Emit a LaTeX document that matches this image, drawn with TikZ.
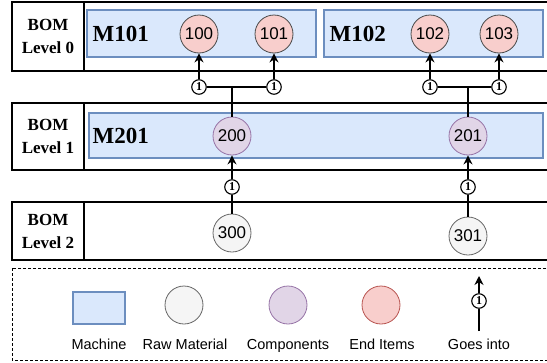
\documentclass[tikz,border=0pt]{standalone}
\usepackage{fontspec}
\setmainfont{Liberation Serif}
\setsansfont{Liberation Sans}
\usetikzlibrary{arrows.meta,positioning}
\definecolor{machfill}{HTML}{DAE8FC}
\definecolor{machdraw}{HTML}{6C8EBF}
\definecolor{rawfill}{HTML}{F5F5F5}
\definecolor{rawdraw}{HTML}{666666}
\definecolor{compfill}{HTML}{E1D5E7}
\definecolor{compdraw}{HTML}{9673A6}
\definecolor{endfill}{HTML}{F8CECC}
\definecolor{enddraw}{HTML}{4A4A4A}
\definecolor{endlegdraw}{HTML}{B85450}
\tikzset{
	rowframe/.style={line width=1.6pt, color=black},
	lvl/.style={font=\fontsize{17}{23}\selectfont\bfseries, align=center},
	machine/.style={rectangle, fill=machfill, draw=machdraw, line width=1.2pt, inner sep=0},
	mtext/.style={font=\fontsize{23}{26}\selectfont\bfseries, inner sep=0},
	part/.style={circle, line width=0.8pt, minimum size=38pt, inner sep=0, font=\sffamily\fontsize{17}{19}\selectfont},
	rawmat/.style={part, fill=rawfill, draw=rawdraw},
	comp/.style={part, fill=compfill, draw=compdraw},
	enditem/.style={part, fill=endfill, draw=enddraw},
	qty/.style={circle, draw, fill=white, line width=1.1pt, minimum size=14.5pt, inner sep=0, font=\fontsize{12}{12}\selectfont\bfseries},
	edge/.style={color=black, line width=1.5pt},
	diredge/.style={->,>={Stealth[width=9pt,length=9pt]}, color=black, line width=1.5pt},
	legtext/.style={anchor=base, font=\sffamily\fontsize{14.5}{16}\selectfont}
}
\begin{document}
\begin{tikzpicture}[x=1pt,y=-1pt]
		\useasboundingbox (0,0) rectangle (547,362);
		\clip (0,0) rectangle (547,362);
		
		%%%rows
		\draw[rowframe] (12,2) rectangle (552,71);
		\draw[rowframe] (84,2) -- (84,71);
		\draw[rowframe] (12,103) rectangle (552,170);
		\draw[rowframe] (84,103) -- (84,170);
		\draw[rowframe] (12,202) rectangle (552,260);
		\draw[rowframe] (84,202) -- (84,260);
		\node[lvl] (lvl0) at (48,36.5) {BOM\\Level 0};
		\node[lvl] (lvl1) at (48,136.5) {BOM\\Level 1};
		\node[lvl] (lvl2) at (48,231) {BOM\\Level 2};
		
		%%%machines
		\node[machine,minimum width=229,minimum height=47,label={[mtext,anchor=west,xshift=6]west:M101}] (m101) at (201.5,33.5) {};
		\node[machine,minimum width=219,minimum height=47,label={[mtext,anchor=west,xshift=6]west:M102}] (m102) at (433.5,33.5) {};
		\node[machine,minimum width=454,minimum height=45,label={[mtext,anchor=west,xshift=4]west:M201}] (m201) at (316,135.5) {};
		
		%%%items
		\node[enditem] (c100) at (199,34) {100};
		\node[enditem] (c101) at (274,34) {101};
		\node[enditem] (c102) at (430,34) {102};
		\node[enditem] (c103) at (499,34) {103};
		\node[comp] (c200) at (232,136) {200};
		\node[comp] (c201) at (468,136) {201};
		\node[rawmat] (c300) at (232,233) {300};
		\node[rawmat] (c301) at (468,236) {301};
		
		\node[qty] (q100) at (199,87) {1};
		\node[qty] (q101) at (274,87) {1};
		\node[qty] (q102) at (430,87) {1};
		\node[qty] (q103) at (499,87) {1};
		\node[qty] (q300) at (232,187) {1};
		\node[qty] (q301) at (468,187) {1};
		
		\draw[edge] (c200.north) |- (q100);
		\draw[edge] (c200.north) |- (q101);
		\draw[edge] (c201.north) |- (q102);
		\draw[edge] (c201.north) |- (q103);
		\draw[diredge] (q100) -- (c100);
		\draw[diredge] (q101) -- (c101);
		\draw[diredge] (q102) -- (c102);
		\draw[diredge] (q103) -- (c103);
		\draw[edge] (c300) -- (q300);
		\draw[diredge] (q300) -- (c200);
		\draw[edge] (c301) -- (q301);
		\draw[diredge] (q301) -- (c201);
		
		%%%legend
		\draw[dashed,dash pattern=on 3pt off 2pt,line width=0.7pt] (12,268) rectangle (552,360);
		\node[machine,minimum width=52,minimum height=32] (lgmach) at (99,308) {};
		\node[rawmat] (lgraw) at (184,305) {};
		\node[comp] (lgcomp) at (288,305) {};
		\node[enditem,draw=endlegdraw] (lgend) at (381,305) {};
		\node[qty] (lgqty) at (479,301) {1};
		\coordinate (lgtop) at (479,276);
		\coordinate (lgbot) at (479,331);
		\draw[edge,line width=1.2pt] (lgbot) -- (lgqty);
		\draw[diredge,line width=1.2pt] (lgqty) -- (lgtop);
		\node[legtext] (txmach) at (99,349) {Machine};
		\node[legtext] (txraw) at (185,349) {Raw Material};
		\node[legtext] (txcomp) at (288,349) {Components};
		\node[legtext] (txend) at (382,349) {End Items};
		\node[legtext] (txgoes) at (479,349) {Goes into};
	\end{tikzpicture}
\end{document}
